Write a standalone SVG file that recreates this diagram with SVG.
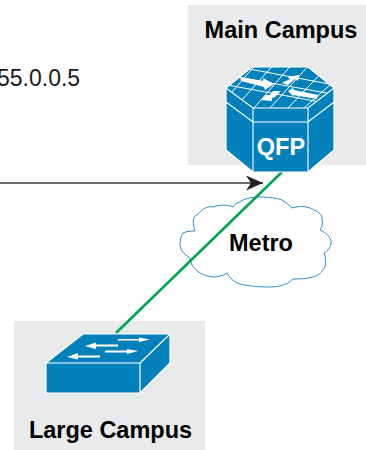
<svg xmlns="http://www.w3.org/2000/svg" width="366" height="450" viewBox="0 0 366 450">
<style>
.lbl{font-family:"Liberation Sans",Arial,sans-serif;font-weight:bold;font-size:23.5px;fill:#000;text-anchor:middle}
.bg{fill:#e9eaec}
.dev{fill:#0480bb;stroke:#fff;stroke-width:1.2;stroke-linejoin:round}
.ln{fill:none;stroke:#fff;stroke-width:1.1}
.grid{fill:none;stroke:#fff;stroke-width:1}
.ar{fill:#fff}
</style>
<defs>
<marker id="ah" markerUnits="userSpaceOnUse" markerWidth="18" markerHeight="16" refX="17" refY="7.500" orient="auto"><path d="M0 0L17 7.500L0 15L5 7.500Z" fill="#222"/></marker>
<clipPath id="topface"><path d="M252 67H308L334 88L308 108H253L226 88Z"/></clipPath>
</defs>
<rect class="bg" x="188" y="5" width="178" height="160"/>
<rect class="bg" x="14" y="321" width="191" height="129"/>
<g id="connectors">
<path d="M0 183H263" fill="none" stroke="#3a3a3a" stroke-width="1.5" marker-end="url(#ah)"/>
</g>
<g id="metro">
<path d="M195 231C192 222 193 216 197 215C203 208 208 206 213 207C221 204 229 205 233 207C235 204 237 203 238 203C245 198 252 197 260 197C270 197 277 198 282 200C287 203 290 206 292 208C299 206 305 206 310 208C317 211 322 214 322 218C323 224 322 227 320 230C327 233 331 238 331 242C331 247 328 251 324 253C326 258 326 263 325 267C322 272 318 276 313 277C306 279 299 279 293 279C287 285 278 287 270 287C258 287 246 286 237 283C232 280 229 277 227 273C222 276 217 277 213 277C204 276 196 272 192 265C191 262 190 260 190 258C184 254 180 250 180 245C180 240 181 236 183 233C187 231 191 231 195 231Z" fill="#fff" stroke="#2f8fc9" stroke-width="1"/>
<text class="lbl" x="261" y="251">Metro</text>
</g>
<g id="connectors2">
<path d="M282 172L116 333" fill="none" stroke="#00a651" stroke-width="2.600"/>
</g>
<g id="main-campus">
<text class="lbl" x="281" y="38">Main Campus</text>
<path class="dev" d="M252 67H308L334 88V150L308 172H253L226 150V88Z"/>
<path class="ln" d="M226 88L253 108H308L334 88M226 102L253 122H308L334 102M253 108V172M308 108V172"/>
<g clip-path="url(#topface)">
<path class="grid" d="M240 62L218 84M258 62L232 92M276 62L240 102M294 62L254 108M312 62L270 108M328 66L288 108M340 76L304 108M222 84L320 102M232 76L332 94M244 68L340 86"/>
</g>
<path class="ar" d="M240 77L263 81L263 78L274 84L265 90L264 87L241 81Z M282 83L290 79L288 77L299 75L298 81L295 79L288 85Z M280 91L273 91L270 95L266 95L261 100L272 101L272 98L275 97L280 92Z M288 91L293 88L294 90L318 95L317 99L293 95L294 97Z"/>
<text x="281" y="155" style="font-family:'Liberation Sans',Arial,sans-serif;font-weight:bold;font-size:23.500px;fill:#fff;text-anchor:middle">QFP</text>
</g>
<g id="large-campus">
<path class="dev" d="M83 334H170L140 363H46ZM46 363H140V393H46ZM140 363L170 334V363L140 393Z"/>
<path class="ar" d="M118 339H139V337.500L150 339.500L139 342V340.500H118Z"/>
<path class="ar" d="M85 346L96 342.500V344.500H118V346.500H96V349Z M105 350.500H127V349L138 351L127 354V352.500H105Z M67 357L78 353V355.500H100V357.500H78V359.500Z"/>
<text class="lbl" x="110.500" y="438">Large Campus</text>
</g>
<text x="-3" y="86" style="font-family:'Liberation Sans',Arial,sans-serif;font-size:23px;fill:#1a1a1a">55.0.0.5</text>
</svg>
